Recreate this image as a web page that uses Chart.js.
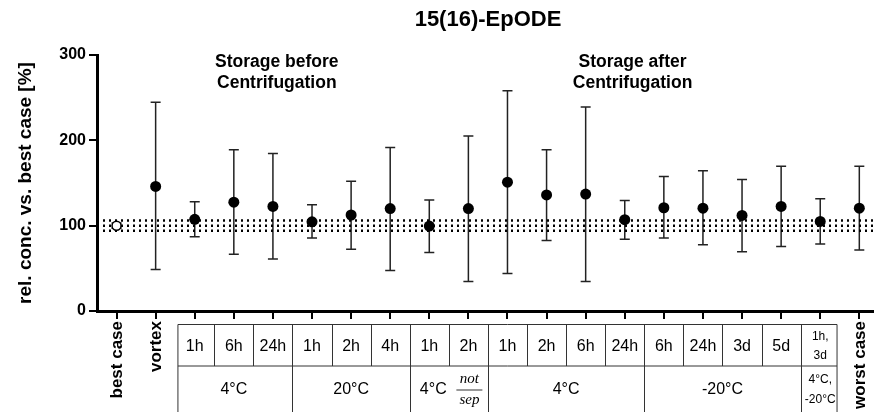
<!DOCTYPE html>
<html>
<head>
<meta charset="utf-8">
<script src="https://cdn.jsdelivr.net/npm/chart.js@4.4.1/dist/chart.umd.min.js"></script>
<style>
  body { margin: 0; background: #fff; }
  #chart { display: block; }
</style>
</head>
<body>
<canvas id="chart" width="879" height="412"></canvas>
<script>
const FONT = "'Liberation Sans', Arial, sans-serif";

//x categories (first table row), "\n" means two small lines
const categories = ["best case", "vortex", "1h", "6h", "24h", "1h", "2h", "4h", "1h", "2h",
  "1h", "2h", "6h", "24h", "6h", "24h", "3d", "5d", "1h,\n3d", "worst case"];
//mean and error bar ends [%]
const means = [100, 146, 107.5, 127.5, 122.5, 104.5, 112.5, 120, 99.5, 120,
  151, 136, 137, 107, 121, 120.5, 112, 122.5, 105, 120.5];
const upper = [103, 244.5, 128, 189, 184.5, 124.5, 152, 191.5, 130, 205,
  258, 189, 239, 129.5, 157.5, 164.5, 154, 169.5, 131.5, 169.5];
const lower = [97, 48.5, 87, 66.5, 61, 85.5, 72.5, 47.5, 68.5, 34.5,
  44, 82.5, 34.5, 84, 85.5, 77.5, 69.5, 75.5, 78.5, 71.5];
//dotted reference lines
const refLines = [94, 100, 106];
//second table row
const groupLabels = ["4°C", "20°C", "4°C", "4°C", "-20°C", "4°C,\n-20°C"];
const groupFrom = [2, 5, 8, 10, 14, 18];
const groupTo = [4, 7, 9, 13, 17, 18];
const groupNotes = [null, null, ["not", "sep"], null, null, null];
//labels above the points
const sections = [["Storage before", "Centrifugation"], ["Storage after", "Centrifugation"]];
const sectionAt = [4.1, 13.2];

const xMin = -0.5, xMax = 19.35;

//error bars drawn behind the points
const errorBars = {
  id: "errorBars",
  beforeDatasetsDraw(chart) {
    const { ctx, scales: { x, y } } = chart;
    ctx.save();
    ctx.strokeStyle = "#222";
    ctx.lineWidth = 1.5;
    means.forEach((m, i) => {
      const px = x.getPixelForValue(i);
      const top = y.getPixelForValue(upper[i]);
      const bot = y.getPixelForValue(lower[i]);
      ctx.beginPath();
      ctx.moveTo(px, top); ctx.lineTo(px, bot);
      ctx.moveTo(px - 5, top); ctx.lineTo(px + 5, top);
      ctx.moveTo(px - 5, bot); ctx.lineTo(px + 5, bot);
      ctx.stroke();
    });
    ctx.restore();
  }
};

function multiLine(ctx, text, cx, cy, gap, maxW) {
  const lines = text.split("\n");
  lines.forEach((l, k) => {
    ctx.fillText(l, cx, cy + (k - (lines.length - 1) / 2) * gap, maxW);
  });
}

//x axis ticks, the condition table, title and section labels
const tableAxis = {
  id: "tableAxis",
  afterDraw(chart) {
    const { ctx, scales: { x, y }, chartArea } = chart;
    const base = chartArea.bottom;
    ctx.save();
    ctx.fillStyle = "#000";
    ctx.strokeStyle = "#000";

    //tick marks
    ctx.lineWidth = 2;
    categories.forEach((c, i) => {
      const px = Math.round(x.getPixelForValue(i));
      ctx.beginPath(); ctx.moveTo(px, base); ctx.lineTo(px, base + 8); ctx.stroke();
    });

    const first = groupFrom[0], last = groupTo[groupTo.length - 1];
    const left = x.getPixelForValue(first - 0.43);
    const right = x.getPixelForValue(last + 0.43);
    const rowTop = base + 13.5, rowMid = base + 55, rowBot = chart.height;

    //table lines
    ctx.lineWidth = 1;
    ctx.strokeStyle = "#333";
    ctx.beginPath();
    ctx.moveTo(left, rowTop); ctx.lineTo(right, rowTop);
    ctx.moveTo(left, rowMid); ctx.lineTo(right, rowMid);
    ctx.moveTo(left, rowTop); ctx.lineTo(left, rowBot);
    ctx.moveTo(right, rowTop); ctx.lineTo(right, rowBot);
    for (let i = first; i < last; i++) {
      const px = Math.round(x.getPixelForValue(i + 0.5)) + 0.5;
      ctx.moveTo(px, rowTop); ctx.lineTo(px, rowMid);
    }
    groupFrom.slice(1).forEach(g => {
      const px = Math.round(x.getPixelForValue(g - 0.5)) + 0.5;
      ctx.moveTo(px, rowMid); ctx.lineTo(px, rowBot);
    });
    ctx.stroke();

    ctx.textAlign = "center";
    ctx.textBaseline = "middle";
    const row1 = (rowTop + rowMid) / 2 + 1;
    const row2 = (rowMid + rowBot) / 2 + 1;

    //first row
    categories.forEach((c, i) => {
      const px = x.getPixelForValue(i);
      if (i >= first && i <= last) {
        if (c.includes("\n")) {
          ctx.font = "12px " + FONT;
          multiLine(ctx, c, px, row1, 19, 32);
        } else {
          ctx.font = "16px " + FONT;
          ctx.fillText(c, px, row1);
        }
      } else {
        ctx.save();
        ctx.translate(px, base + 10);
        ctx.rotate(-Math.PI / 2);
        ctx.textAlign = "right";
        ctx.font = "bold 17px " + FONT;
        ctx.fillText(c, 0, 1);
        ctx.restore();
      }
    });

    //second row
    groupLabels.forEach((g, k) => {
      const a = groupFrom[k], b = groupTo[k];
      const note = groupNotes[k];
      if (note) {
        ctx.font = "16px " + FONT;
        ctx.fillText(g, x.getPixelForValue(a) + 4, row2);
        const nx = x.getPixelForValue(b) + 1;
        ctx.font = "italic 15px 'Liberation Serif', 'DejaVu Serif', serif";
        ctx.fillText(note[0], nx, row2 - 11);
        ctx.fillText(note[1], nx, row2 + 10);
        ctx.lineWidth = 1;
        ctx.beginPath(); ctx.moveTo(nx - 13, row2); ctx.lineTo(nx + 13, row2); ctx.stroke();
      } else if (g.includes("\n")) {
        ctx.font = "12px " + FONT;
        multiLine(ctx, g, x.getPixelForValue((a + b) / 2), row2, 20, 34);
      } else {
        ctx.font = "16px " + FONT;
        ctx.fillText(g, x.getPixelForValue((a + b) / 2), row2);
      }
    });

    //title
    ctx.font = "bold 22px " + FONT;
    ctx.fillText("15(16)-EpODE", (chartArea.left + chartArea.right) / 2 + 3, 20);

    //section labels
    ctx.font = "bold 17.5px " + FONT;
    sections.forEach((s, k) => {
      const px = x.getPixelForValue(sectionAt[k]);
      ctx.fillText(s[0], px, chartArea.top + 7);
      ctx.fillText(s[1], px, chartArea.top + 28);
    });
    ctx.restore();
  }
};

new Chart(document.getElementById("chart"), {
  type: "scatter",
  plugins: [errorBars, tableAxis],
  data: {
    datasets: [
      {
        data: means.map((v, i) => ({ x: i, y: v })),
        pointRadius: means.map((v, i) => (i === 0 ? 4.5 : 5.5)),
        pointBackgroundColor: means.map((v, i) => (i === 0 ? "#fff" : "#000")),
        pointBorderColor: "#000",
        pointBorderWidth: means.map((v, i) => (i === 0 ? 1.5 : 0)),
        order: 0,
      },
      ...refLines.map(v => ({
        type: "line",
        data: [{ x: xMin, y: v }, { x: xMax, y: v }],
        borderColor: "#000",
        borderWidth: 2.5,
        borderDash: [2, 4],
        pointRadius: 0,
        order: 1,
      })),
    ],
  },
  options: {
    responsive: false,
    animation: false,
    layout: { padding: { top: 55, right: 0, left: 0, bottom: 0 } },
    plugins: {
      legend: { display: false },
      tooltip: { enabled: false },
    },
    scales: {
      x: {
        type: "linear",
        min: xMin,
        max: xMax,
        ticks: { display: false },
        grid: { display: false },
        border: { display: true, color: "#000", width: 3 },
        afterFit(scale) { scale.height = 101; },
      },
      y: {
        min: 0,
        max: 300,
        ticks: {
          stepSize: 100,
          color: "#000",
          padding: 3,
          font: { family: FONT, size: 16, weight: "bold" },
        },
        grid: { display: true, drawOnChartArea: false, drawTicks: true, tickLength: 8, color: "#000", lineWidth: 2 },
        border: { display: true, color: "#000", width: 3 },
        title: {
          display: true,
          text: "rel. conc. vs. best case [%]",
          color: "#000",
          font: { family: FONT, size: 19, weight: "bold" },
          padding: { top: 14, bottom: 0 },
        },
        afterFit(scale) { scale.width = 97; },
      },
    },
  },
});
</script>
</body>
</html>
